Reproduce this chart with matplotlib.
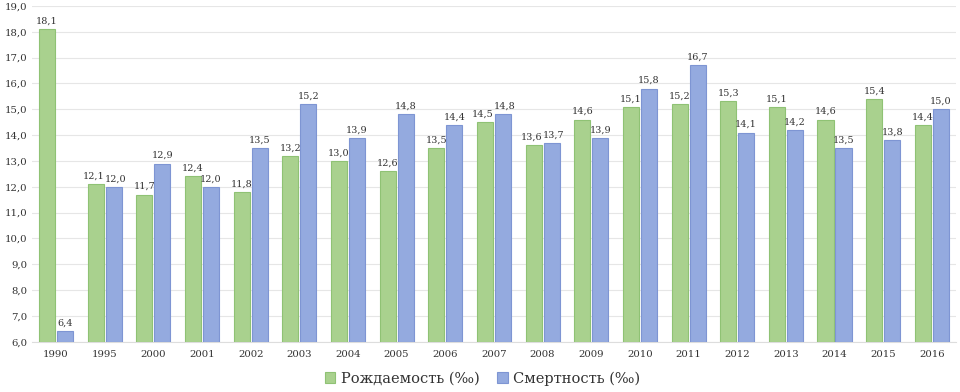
import matplotlib
matplotlib.use("Agg")
import matplotlib.pyplot as plt
import numpy as np

years = ["1990", "1995", "2000", "2001", "2002", "2003", "2004", "2005", "2006", "2007",
         "2008", "2009", "2010", "2011", "2012", "2013", "2014", "2015", "2016"]
birth = [18.1, 12.1, 11.7, 12.4, 11.8, 13.2, 13.0, 12.6, 13.5, 14.5,
         13.6, 14.6, 15.1, 15.2, 15.3, 15.1, 14.6, 15.4, 14.4]
death = [6.4, 12.0, 12.9, 12.0, 13.5, 15.2, 13.9, 14.8, 14.4, 14.8,
         13.7, 13.9, 15.8, 16.7, 14.1, 14.2, 13.5, 13.8, 15.0]
labels = ["Рождаемость (‰)", "Смертность (‰)"]

plt.rcParams['font.family'] = ['DejaVu Serif']

fig = plt.figure(figsize=(9.6, 3.92), dpi=100)
ax = fig.add_axes([0.033, 0.128, 0.963, 0.857])

x = np.arange(len(years))
w = 0.33
off = 0.185
gcol, gedge = '#A9D18E', '#8FC274'
bcol, bedge = '#94AADF', '#7E95D3'
b1 = ax.bar(x - off, np.array(birth) - 6, w, bottom=6, color=gcol, edgecolor=gedge, linewidth=0.8, label=labels[0], zorder=3)
b2 = ax.bar(x + off, np.array(death) - 6, w, bottom=6, color=bcol, edgecolor=bedge, linewidth=0.8, label=labels[1], zorder=3)

fs = 7.3
lfs = 6.9
for xi, vb, vd in zip(x, birth, death):
    close = abs(vb - vd) < 0.35
    nud = 1.5 if close else 0.0
    ax.annotate(f"{vb:.1f}".replace('.', ','), (xi - off, vb), xytext=(-nud, 2.5), textcoords='offset points',
                ha='center', va='bottom', fontsize=lfs, color='#333333', zorder=4)
    ax.annotate(f"{vd:.1f}".replace('.', ','), (xi + off, vd), xytext=(nud, 2.5), textcoords='offset points',
                ha='center', va='bottom', fontsize=lfs, color='#333333', zorder=4)

ax.set_ylim(6, 19)
ax.set_xlim(-0.5, len(years) - 0.5)
ax.set_yticks(np.arange(6, 19.5, 1))
ax.set_yticklabels([f"{v:.1f}".replace('.', ',') for v in np.arange(6, 19.5, 1)], fontsize=fs, color='#333333')
ax.set_xticks(x)
ax.set_xticklabels(years, fontsize=fs, color='#333333')
ax.tick_params(length=0, pad=6)
ax.tick_params(axis='y', pad=3)
ax.grid(axis='y', color='#E6E6E6', linewidth=0.8, zorder=0)
for s in ['top', 'right', 'left']:
    ax.spines[s].set_visible(False)
ax.spines['bottom'].set_color('#DDDDDD')

fig.legend(handles=[b1, b2], labels=labels, loc='lower center', bbox_to_anchor=(0.503, -0.017),
           ncol=2, frameon=False, fontsize=10.5, handlelength=0.7, handleheight=0.7,
           handletextpad=0.4, columnspacing=1.2, labelcolor='#333333')

fig.savefig("out.png", dpi=100)
